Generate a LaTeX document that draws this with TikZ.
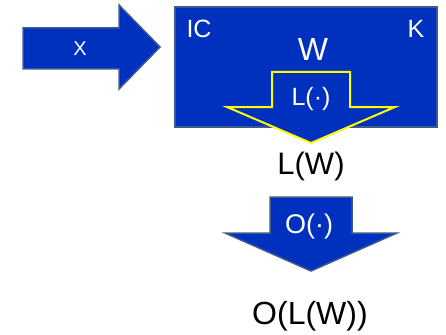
\documentclass[tikz,border=0pt]{standalone}
\usepackage{fontspec}
\setmainfont{Liberation Sans}
\definecolor{fillblue}{RGB}{0,48,190}
\definecolor{edgeblue}{RGB}{60,90,140}
\definecolor{ylw}{RGB}{255,255,0}
\tikzset{
  bluebody/.style={fill=fillblue, draw=edgeblue, line width=1.5pt, line join=miter},
  yelbody/.style={fill=fillblue, draw=ylw, line width=2pt, line join=miter},
  wtxt/.style={text=white, inner sep=0pt, anchor=center},
  btxt/.style={text=black, inner sep=0pt, anchor=center},
}
\newcommand{\fs}[1]{\fontsize{#1}{#1}\selectfont}
\begin{document}
\begin{tikzpicture}[x=1pt,y=-1pt]
\useasboundingbox (0,0) rectangle (446,334);
% input arrow X
\draw[bluebody] (23,28) -- (119,28) -- (119,5) -- (160,47) -- (119,89) -- (119,69) -- (23,69) -- cycle;
\node[wtxt] (x) at (80,48.5) {\fs{20}X};
% box
\draw[bluebody] (175,7) rectangle (437,127);
\node[wtxt] (ic) at (199,29) {\fs{25}IC};
\node[wtxt] (k) at (416,29) {\fs{25}K};
\node[wtxt] (w) at (313,49) {\fs{32}W};
% L arrow
\draw[yelbody] (272,72) -- (350,72) -- (350,107) -- (395,107) -- (311,143) -- (227,107) -- (272,107) -- cycle;
\node[wtxt] (lop) at (311,99) {\fs{25}L(·)};
\node[btxt] (lw) at (311,166) {\fs{31}L(W)};
% O arrow
\draw[bluebody] (270,197) -- (352,197) -- (352,233) -- (397,233) -- (311,271) -- (225,233) -- (270,233) -- cycle;
\node[wtxt] (oop) at (309,227) {\fs{27}O(·)};
\node[btxt] (olw) at (310,316) {\fs{32}O(L(W))};
\end{tikzpicture}
\end{document}
